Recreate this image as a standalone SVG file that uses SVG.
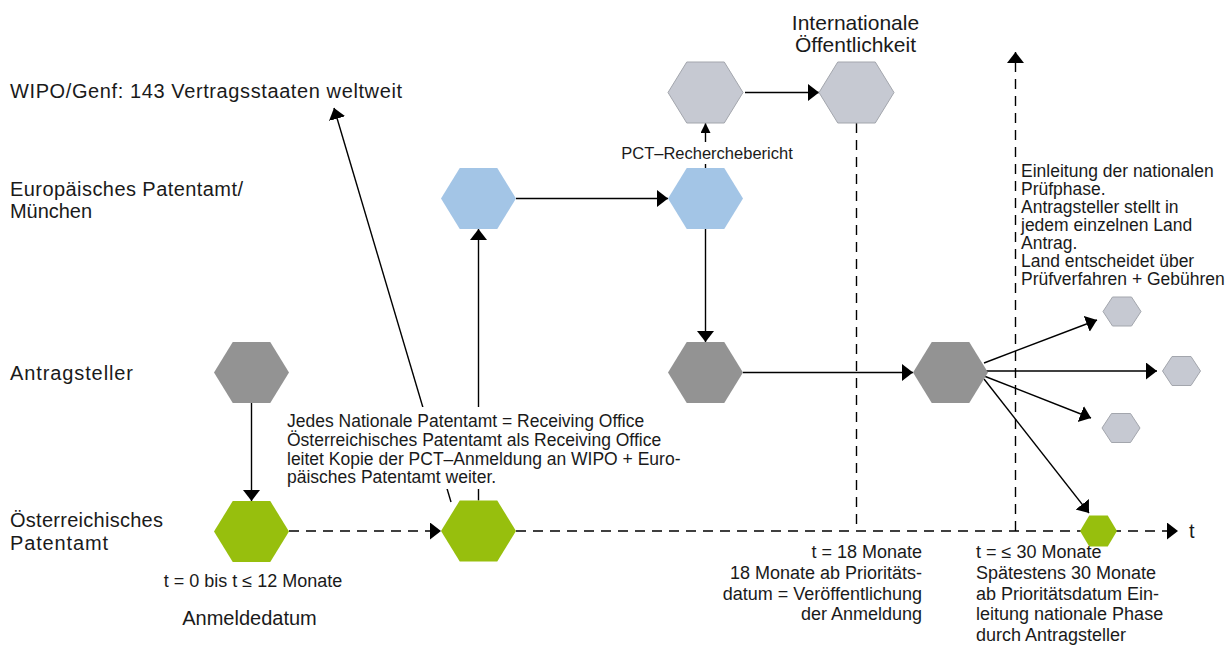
<svg xmlns="http://www.w3.org/2000/svg" width="1231" height="646" viewBox="0 0 1231 646">
<style>
text{font-family:"Liberation Sans",Arial,sans-serif;fill:#1a1a1a}
.lane{font-size:20px}
.s17{font-size:17.5px}
.s18{font-size:18px}
.s20{font-size:20px}
.ln{fill:none;stroke:#000;stroke-width:1.4}
.dash{stroke-dasharray:10 7}
.green{fill:#97bf0d}
.blue{fill:#a3c5e6}
.dark{fill:#939393}
.light{fill:#c6c9d2;stroke:#a3a6ad;stroke-width:1}
</style>
<defs>
<marker id="ah" markerUnits="userSpaceOnUse" markerWidth="12" markerHeight="18" refX="11" refY="8.5" orient="auto"><path d="M0,0 L11,8.5 L0,17 z" fill="#000"/></marker>
<marker id="ahs" markerUnits="userSpaceOnUse" markerWidth="11" markerHeight="11" refX="10" refY="5" orient="auto"><path d="M0,0 L10,5 L0,10 z" fill="#000"/></marker>
</defs>
<rect width="1231" height="646" fill="#fff"/>

<g id="connectors">
<path class="ln dash" d="M289,531 H441" marker-end="url(#ah)"/>
<path class="ln dash" d="M516,531 H1178" marker-end="url(#ah)"/>
<path class="ln dash" d="M856.5,123 V531"/>
<path class="ln dash" d="M1015.5,531 V52" marker-end="url(#ah)"/>
<path class="ln" d="M251.5,403 V501" marker-end="url(#ah)"/>
<path class="ln" d="M478.5,500.5 V229" marker-end="url(#ah)"/>
<path class="ln" d="M451,502 L334,108" marker-end="url(#ah)"/>
<path class="ln" d="M516,198.5 H668" marker-end="url(#ah)"/>
<path class="ln" d="M705.5,229 V342" marker-end="url(#ah)"/>
<path class="ln" d="M705.5,168 V123" marker-end="url(#ahs)"/>
<path class="ln" d="M745,92.5 H819" marker-end="url(#ah)"/>
<path class="ln" d="M743,372.5 H913" marker-end="url(#ah)"/>
<path class="ln" d="M984,363 L1097,320" marker-end="url(#ah)"/>
<path class="ln" d="M986,371 H1157" marker-end="url(#ah)"/>
<path class="ln" d="M984,376 L1091,418" marker-end="url(#ah)"/>
<path class="ln" d="M984,379 L1089,513" marker-end="url(#ah)"/>
</g>

<g id="lane-wipo"><text class="lane" x="10" y="98" textLength="392">WIPO/Genf: 143 Vertragsstaaten weltweit</text></g>
<g id="lane-epa"><text class="lane" x="10" y="196" textLength="233">Europäisches Patentamt/</text><text class="lane" x="10" y="218" textLength="82">München</text></g>
<g id="lane-antragsteller"><text class="lane" x="10" y="380" textLength="123">Antragsteller</text></g>
<g id="lane-opa"><text class="lane" x="10" y="527" textLength="153">Österreichisches</text><text class="lane" x="10" y="550" textLength="98">Patentamt</text></g>

<g id="hex-antragsteller-1"><polygon class="dark" points="214,372.5 232.75,342 270.25,342 289,372.5 270.25,403 232.75,403"/></g>
<g id="hex-opa-1"><polygon class="green" points="214,531.5 232.75,501 270.25,501 289,531.5 270.25,562 232.75,562"/>
<text class="s18" x="253" y="587" text-anchor="middle">t = 0 bis t ≤ 12 Monate</text>
<text class="s20" x="249.5" y="625" text-anchor="middle">Anmeldedatum</text></g>
<g id="hex-opa-2"><polygon class="green" points="441,531 459.75,500.5 497.25,500.5 516,531 497.25,561.5 459.75,561.5"/></g>
<g id="hex-epa-1"><polygon class="blue" points="441,198.5 459.75,168 497.25,168 516,198.5 497.25,229 459.75,229"/></g>
<g id="hex-epa-2"><polygon class="blue" points="668,198.5 686.75,168 724.25,168 743,198.5 724.25,229 686.75,229"/></g>
<g id="hex-antragsteller-2"><polygon class="dark" points="668,372.5 686.75,342 724.25,342 743,372.5 724.25,403 686.75,403"/></g>
<g id="hex-wipo-1"><polygon class="light" points="668,92.5 686.75,62 724.25,62 743,92.5 724.25,123 686.75,123"/></g>
<g id="hex-wipo-2"><polygon class="light" points="819,92.5 837.75,62 875.25,62 894,92.5 875.25,123 837.75,123"/>
<text x="855.5" y="30" text-anchor="middle" style="font-size:21px">Internationale</text>
<text x="855.5" y="52" text-anchor="middle" style="font-size:21px">Öffentlichkeit</text></g>
<g id="hex-antragsteller-3"><polygon class="dark" points="913,372.5 931.75,342 969.25,342 988,372.5 969.25,403 931.75,403"/></g>
<g id="hex-land-1"><polygon class="light" points="1103,311.5 1112.5,297 1131.5,297 1141,311.5 1131.5,326 1112.5,326"/></g>
<g id="hex-land-2"><polygon class="light" points="1162.5,371 1172,356.5 1191,356.5 1200.5,371 1191,385.5 1172,385.5"/></g>
<g id="hex-land-3"><polygon class="light" points="1102,428 1111.5,413.5 1130.5,413.5 1140,428 1130.5,442.5 1111.5,442.5"/></g>
<g id="hex-opa-3"><polygon class="green" points="1080,531 1089.25,515.5 1107.75,515.5 1117,531 1107.75,546.5 1089.25,546.5"/></g>

<g id="label-pct">
<rect x="617" y="142" width="180" height="22" fill="#fff"/>
<text x="707" y="159" text-anchor="middle" style="font-size:16.5px">PCT–Recherchebericht</text>
</g>
<g id="label-receiving">
<rect x="284" y="407" width="368" height="82" fill="#fff"/>
<text class="s17" x="287" y="427">Jedes Nationale Patentamt = Receiving Office</text>
<text class="s17" x="287" y="446">Österreichisches Patentamt als Receiving Office</text>
<text class="s17" x="287" y="465">leitet Kopie der PCT–Anmeldung an WIPO + Euro-</text>
<text class="s17" x="287" y="483">päisches Patentamt weiter.</text>
</g>
<g id="label-national">
<text class="s17" x="1021" y="177">Einleitung der nationalen</text>
<text class="s17" x="1021" y="195">Prüfphase.</text>
<text class="s17" x="1021" y="213">Antragsteller stellt in</text>
<text class="s17" x="1021" y="231">jedem einzelnen Land</text>
<text class="s17" x="1021" y="249">Antrag.</text>
<text class="s17" x="1021" y="267">Land entscheidet über</text>
<text class="s17" x="1021" y="285">Prüfverfahren + Gebühren</text>
</g>
<g id="label-18">
<text class="s18" x="922" y="558" text-anchor="end">t = 18 Monate</text>
<text class="s18" x="922" y="579" text-anchor="end">18 Monate ab Prioritäts-</text>
<text class="s18" x="922" y="600" text-anchor="end">datum = Veröffentlichung</text>
<text class="s18" x="922" y="620" text-anchor="end">der Anmeldung</text>
</g>
<g id="label-30">
<text class="s18" x="976" y="558">t = ≤ 30 Monate</text>
<text class="s18" x="976" y="579">Spätestens 30 Monate</text>
<text class="s18" x="976" y="600">ab Prioritätsdatum Ein-</text>
<text class="s18" x="976" y="620">leitung nationale Phase</text>
<text class="s18" x="976" y="641">durch Antragsteller</text>
</g>
<g id="label-t"><text class="s20" x="1189" y="538">t</text></g>
</svg>
